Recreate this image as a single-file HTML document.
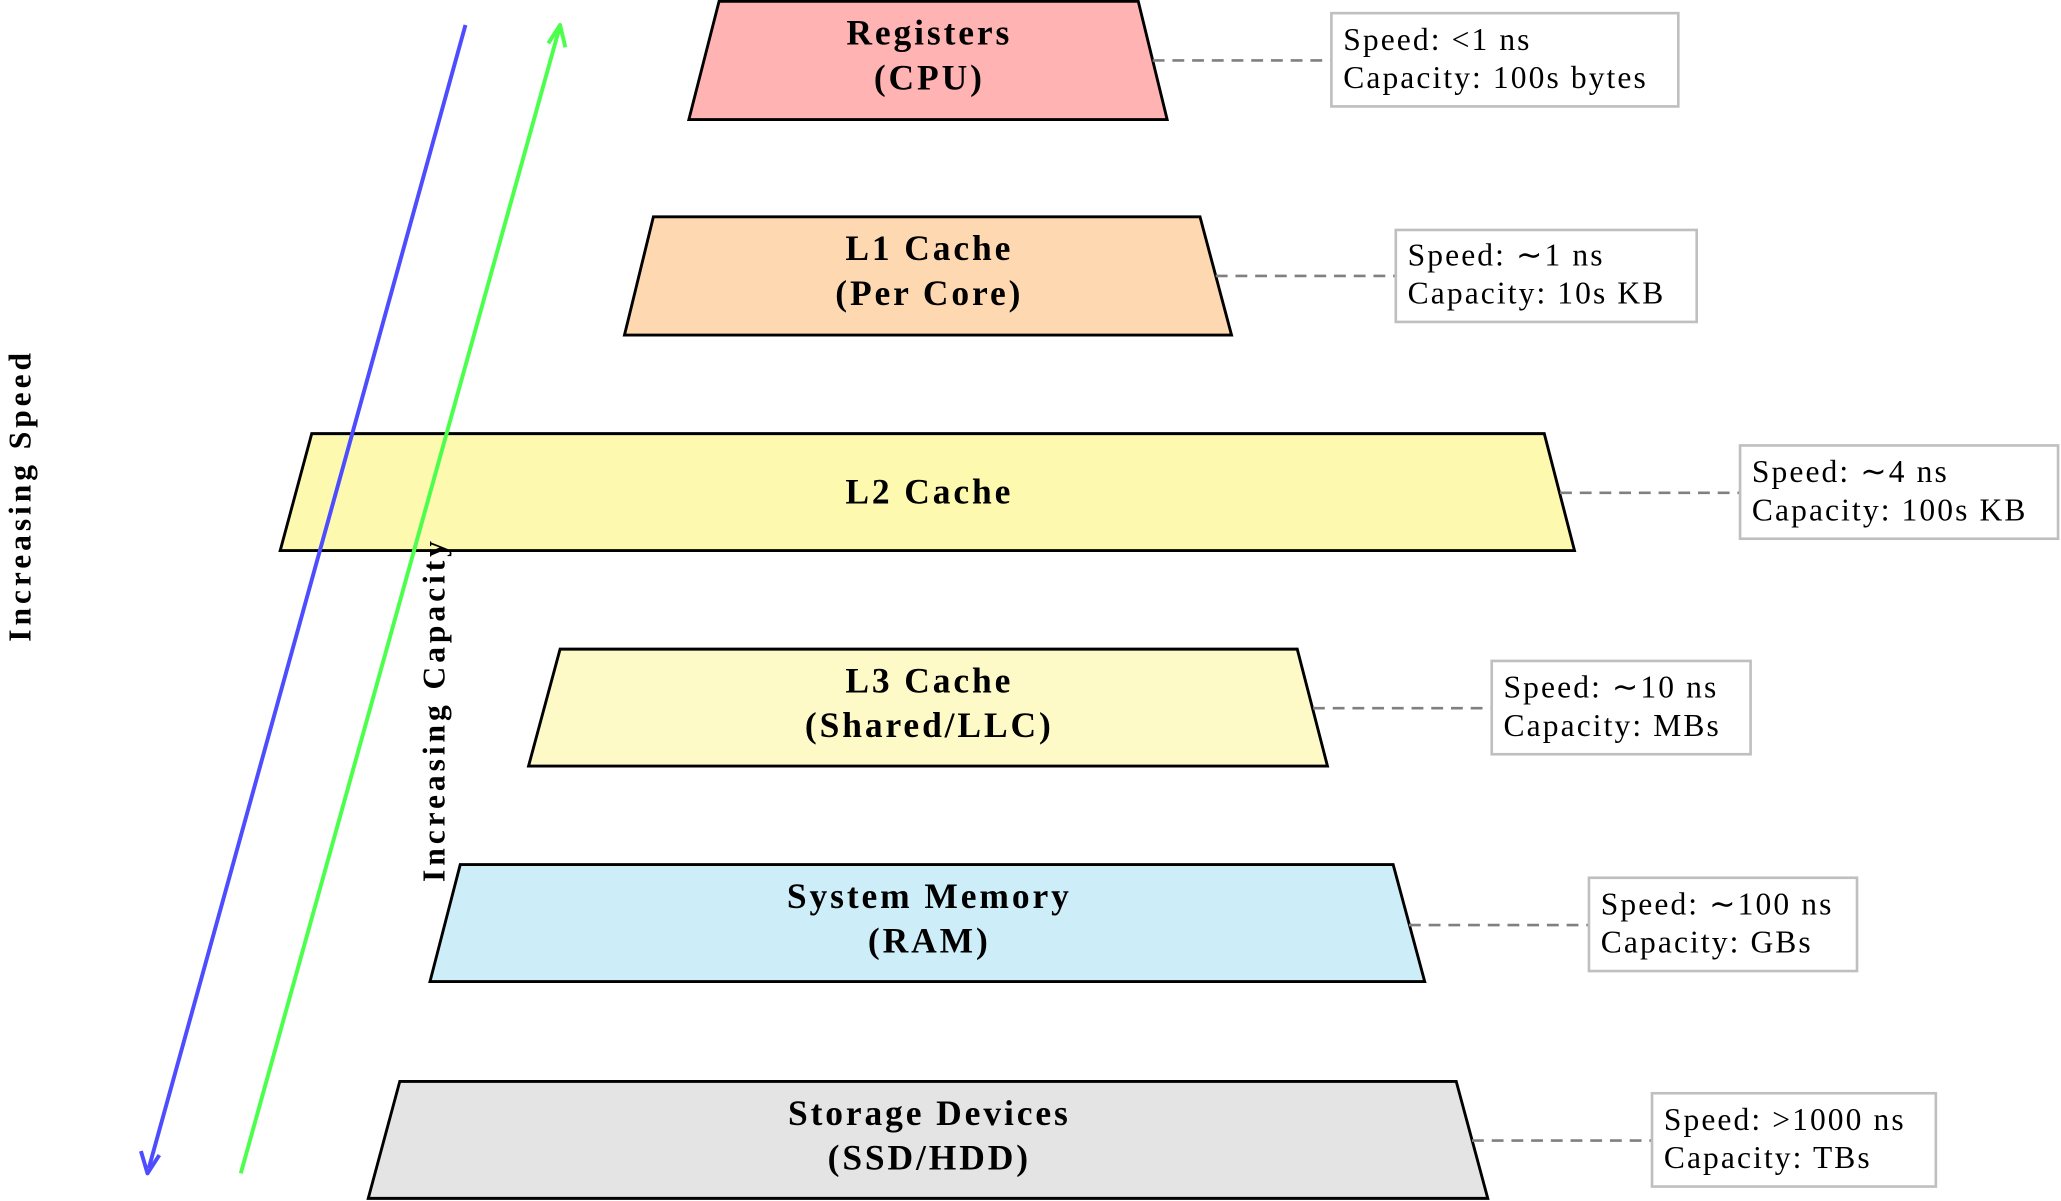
<!DOCTYPE html>
<html><head><meta charset="utf-8"><style>
html,body{margin:0;padding:0;background:#fff;}
svg{display:block;}
.t{font-family:"Liberation Serif",serif;font-weight:bold;font-size:27px;letter-spacing:2.2px;text-anchor:middle;fill:#000;}
.r{font-family:"Liberation Serif",serif;font-weight:bold;font-size:24px;letter-spacing:3px;text-anchor:middle;fill:#000;}
.i{font-family:"Liberation Serif",serif;font-size:24px;letter-spacing:1.6px;fill:#000;}
.p{stroke:#000;stroke-width:2.2;}
.d{stroke:#808080;stroke-width:2;stroke-dasharray:9,6;}
.b{fill:#fff;stroke:#bfbfbf;stroke-width:2;}
</style></head><body>
<svg width="2061" height="1201" viewBox="0 0 1568 914" xmlns="http://www.w3.org/2000/svg">
<polygon class="p" fill="#ffb3b3" points="547,1 866,1 888,91 524,91"/>
<polygon class="p" fill="#fed8b1" points="497,165 913,165 937,255 475,255"/>
<polygon class="p" fill="#fdf9ae" points="237,330 1175,330 1198,419 213,419"/>
<polygon class="p" fill="#fdfac7" points="426,494 987,494 1010,583 402,583"/>
<polygon class="p" fill="#cdeef9" points="350,658 1060,658 1084,747 327,747"/>
<polygon class="p" fill="#e4e4e4" points="304,823 1108,823 1132,912 280,912"/>
<text class="t" x="707" y="34">Registers</text><text class="t" x="707" y="68">(CPU)</text>
<text class="t" x="707" y="198">L1 Cache</text><text class="t" x="707" y="232">(Per Core)</text>
<text class="t" x="707" y="383">L2 Cache</text>
<text class="t" x="707" y="527">L3 Cache</text><text class="t" x="707" y="561">(Shared/LLC)</text>
<text class="t" x="707" y="691">System Memory</text><text class="t" x="707" y="725">(RAM)</text>
<text class="t" x="707" y="856">Storage Devices</text><text class="t" x="707" y="890">(SSD/HDD)</text>
<line class="d" x1="877" y1="46" x2="1013" y2="46"/>
<line class="d" x1="925" y1="210" x2="1062" y2="210"/>
<line class="d" x1="1187" y1="375" x2="1324" y2="375"/>
<line class="d" x1="999" y1="539" x2="1135" y2="539"/>
<line class="d" x1="1072" y1="704" x2="1209" y2="704"/>
<line class="d" x1="1120" y1="868" x2="1257" y2="868"/>
<rect class="b" x="1013" y="10" width="264" height="71"/>
<text class="i" x="1022" y="38">Speed: &lt;1 ns</text><text class="i" x="1022" y="67">Capacity: 100s bytes</text>
<rect class="b" x="1062" y="175" width="229" height="70"/>
<text class="i" x="1071" y="202">Speed: ∼1 ns</text><text class="i" x="1071" y="231">Capacity: 10s KB</text>
<rect class="b" x="1324" y="339" width="242" height="71"/>
<text class="i" x="1333" y="367">Speed: ∼4 ns</text><text class="i" x="1333" y="396">Capacity: 100s KB</text>
<rect class="b" x="1135" y="503" width="197" height="71"/>
<text class="i" x="1144" y="531">Speed: ∼10 ns</text><text class="i" x="1144" y="560">Capacity: MBs</text>
<rect class="b" x="1209" y="668" width="204" height="71"/>
<text class="i" x="1218" y="696">Speed: ∼100 ns</text><text class="i" x="1218" y="725">Capacity: GBs</text>
<rect class="b" x="1257" y="832" width="216" height="71"/>
<text class="i" x="1266" y="860">Speed: &gt;1000 ns</text><text class="i" x="1266" y="889">Capacity: TBs</text>
<line x1="354" y1="19" x2="113" y2="889" stroke="#4d4dff" stroke-width="3"/>
<polyline points="107,876 112,893 121,879" fill="none" stroke="#4d4dff" stroke-width="3" stroke-linejoin="round"/>
<line x1="183" y1="893" x2="425" y2="23" stroke="#4dff4d" stroke-width="3"/>
<polyline points="417,33 426,19 430,36" fill="none" stroke="#4dff4d" stroke-width="3" stroke-linejoin="round"/>
<text class="r" transform="translate(23,377) rotate(-90)">Increasing Speed</text>
<text class="r" transform="translate(338,540) rotate(-90)">Increasing Capacity</text>
</svg>
</body></html>
